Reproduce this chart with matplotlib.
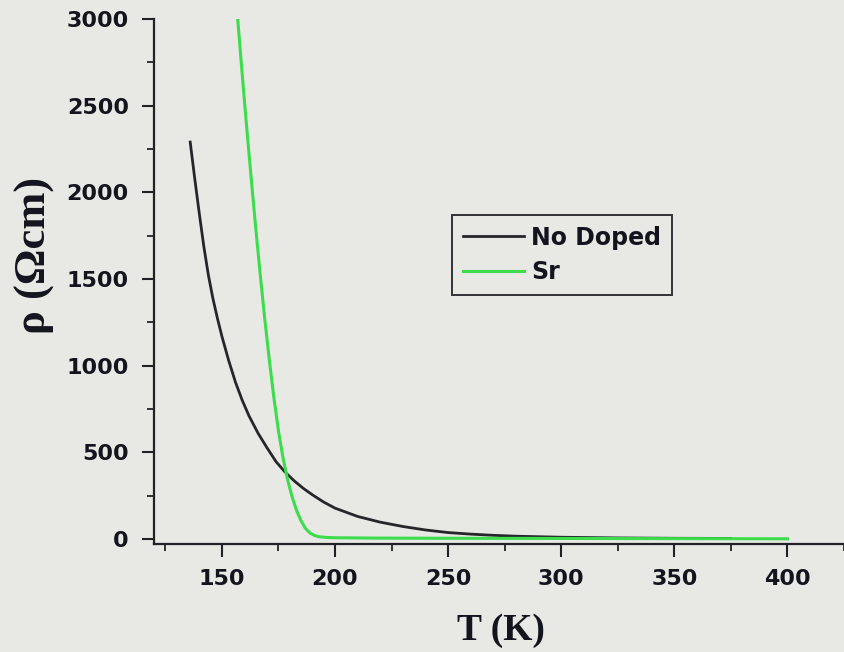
import numpy as np
import matplotlib
matplotlib.use('Agg')
import matplotlib.pyplot as plt
from matplotlib.ticker import MultipleLocator

# values
T_nodoped = [136, 138, 140, 142, 144, 146, 148, 150, 153, 156, 159, 162, 166, 170, 174,
             178, 182, 186, 190, 195, 200, 210, 220, 230, 240, 250, 260, 270, 280,
             300, 325, 350, 375]
rho_nodoped = [2290, 2080, 1880, 1690, 1525, 1390, 1275, 1170, 1030, 905, 800, 710, 610,
               525, 445, 385, 335, 292, 255, 213, 178, 130, 97, 72, 52, 37, 28, 21, 16,
               10, 6, 4, 3]

T_sr = [157, 159, 161, 163, 165, 167, 169, 171, 173, 175, 177, 179, 181, 183, 185,
        187, 189, 191, 193, 196, 200, 220, 250, 300, 350, 400]
rho_sr = [3000, 2680, 2370, 2075, 1790, 1520, 1265, 1030, 815, 625, 470, 345, 245,
          165, 105, 60, 34, 20, 13, 9, 7, 5, 4, 3, 2, 1]

bg = '#e8e9e4'
txt = '#14141f'

fig = plt.figure(figsize=(8.44, 6.52), dpi=100, facecolor=bg)
ax = fig.add_axes([154/844, 1-544/652, 1-154/844, (544-19)/652], facecolor=bg)

ax.plot(T_nodoped, rho_nodoped, color='#26262a', lw=2.0, label='No Doped')
ax.plot(T_sr, rho_sr, color='#3ddc4c', lw=2.2, label='Sr')

ax.set_xlim(120, 425)
ax.set_ylim(-29, 3000)

for s in ['top', 'right']:
    ax.spines[s].set_visible(False)
for s in ['left', 'bottom']:
    ax.spines[s].set_linewidth(1.6)
    ax.spines[s].set_color('#222226')

ax.xaxis.set_major_locator(MultipleLocator(50))
ax.xaxis.set_minor_locator(MultipleLocator(25))
ax.yaxis.set_major_locator(MultipleLocator(500))
ax.yaxis.set_minor_locator(MultipleLocator(250))
ax.tick_params(which='major', length=9, width=1.5, color='#222226', pad=9,
               labelsize=16, labelcolor=txt)
ax.tick_params(which='minor', length=5, width=1.3, color='#222226')
for lab in ax.get_xticklabels() + ax.get_yticklabels():
    lab.set_fontweight('bold')
    lab.set_family('DejaVu Sans')

fig.text(501/844, 1-631/652, 'T (K)', ha='center', va='center', fontsize=27,
         family='Liberation Serif', fontweight='bold', color=txt)
fig.text(35/844, 1-255/652, 'ρ (Ωcm)', ha='center', va='center', rotation=90,
         fontsize=32, family='Liberation Serif', fontweight='bold', color=txt)

leg = ax.legend(loc='upper left', bbox_to_anchor=(452/844, 1-215/652),
                bbox_transform=fig.transFigure, borderaxespad=0, fancybox=False,
                handlelength=2.6, handletextpad=0.3, labelspacing=0.45,
                borderpad=0.45, prop={'family': 'DejaVu Sans', 'weight': 'bold', 'size': 17})
leg.get_frame().set_edgecolor('#333338')
leg.get_frame().set_linewidth(1.4)
leg.get_frame().set_facecolor(bg)
leg.get_frame().set_alpha(1)
for t in leg.get_texts():
    t.set_color(txt)

fig.savefig('out.png', dpi=100, facecolor=bg)
